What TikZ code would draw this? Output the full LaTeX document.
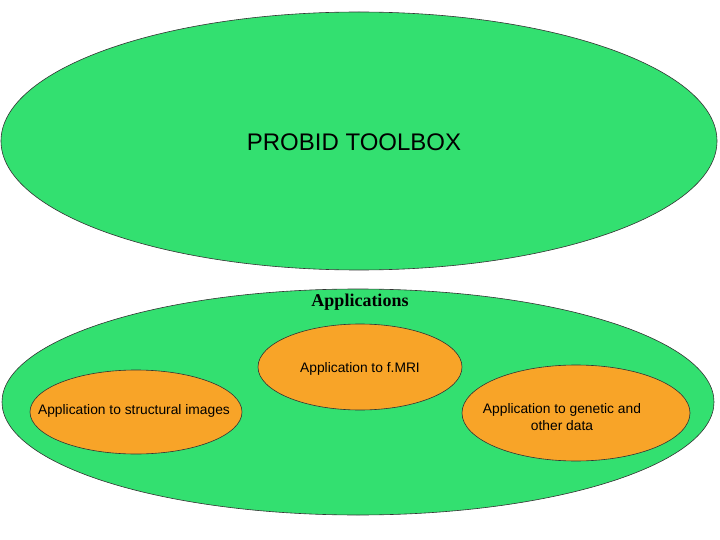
\documentclass[tikz,border=0pt]{standalone}
\usepackage{fontspec}
\setmainfont{Liberation Serif}
\setsansfont{Liberation Sans}
\usetikzlibrary{shapes.geometric}
\definecolor{grn}{HTML}{33E070}
\definecolor{org}{HTML}{F8A428}
\tikzset{big/.style={draw=black!80,fill=grn,line width=0.6pt},
small/.style={draw=black!80,fill=org,line width=0.6pt},
lbl/.style={font=\sffamily\fontsize{13.8}{17}\selectfont,align=center}}
\begin{document}
\begin{tikzpicture}[x=1pt,y=-1pt]
\useasboundingbox (0,0) rectangle (720,540);
\draw[big] (359,141) ellipse [x radius=358, y radius=129];
\node[font=\sffamily\fontsize{24}{28}\selectfont] (t) at (354,142) {PROBID TOOLBOX};
\draw[big] (358,402) ellipse [x radius=356, y radius=113];
\node[font=\bfseries\fontsize{18}{21}\selectfont] (a) at (360,302) {Applications};
\draw[small] (360,367) ellipse [x radius=102, y radius=43];
\node[lbl] (m) at (360,369) {Application to f.MRI};
\draw[small] (136,412) ellipse [x radius=106, y radius=42];
\node[lbl] (l) at (134,411) {Application to structural images};
\draw[small] (576,413) ellipse [x radius=114, y radius=48];
\node[lbl] (r) at (562,417) {Application to genetic and\\other data};
\end{tikzpicture}
\end{document}
